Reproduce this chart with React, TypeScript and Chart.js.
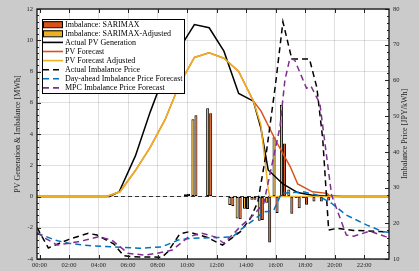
import React, { useEffect, useRef } from "react";
import { Chart, registerables } from "chart.js";

Chart.register(...registerables);

// ---------------- data ----------------
const hourTicks = [0, 2, 4, 6, 8, 10, 12, 14, 16, 18, 20, 22];
const hourLabels = ["00:00", "02:00", "04:00", "06:00", "08:00", "10:00", "12:00", "14:00", "16:00", "18:00", "20:00", "22:00"];
const leftTicks = [-4, -2, 0, 2, 4, 6, 8, 10, 12];
const rightTicks = [10, 20, 30, 40, 50, 60, 70, 80];
const xMin = -0.17;
const xMax = 23.69;

// imbalance bars (MWh), 30-min slots
const barTimes = [10.0, 10.5, 11.5, 13.0, 13.5, 14.0, 14.5, 15.0, 15.5, 16.0, 16.5, 17.0, 17.5, 18.0, 18.5, 19.0, 19.5];
const imbalanceSarimax = [0.17, 5.2, 5.33, -0.6, -1.45, -0.8, -0.2, -1.5, -2.94, -1.06, 3.4, -1.1, -0.75, -0.53, -0.32, -0.32, -0.26];
const imbalanceAdjusted = [0.15, 4.95, 5.65, -0.55, -1.4, -0.78, -0.2, -1.55, -0.4, 3.8, 5.87, 0.45, -0.1, -0.1, null, null, null];

// PV (MWh)
const actualPvTimes = [xMin, 4.75, 5.4, 6.5, 7.5, 8.5, 9.5, 10.5, 11.5, 12.5, 13.5, 14.5, 15.0, 15.5, 16.5, 17.5, 18.5, 19.5, 20.5, xMax];
const actualPv = [0, 0, 0.3, 2.6, 5.4, 7.9, 9.5, 11.0, 10.8, 9.3, 6.6, 6.1, 4.4, 1.7, 0.8, 0.25, 0.08, 0.03, 0, 0];

const pvForecastTimes = [xMin, 4.55, 5.45, 6.5, 7.5, 8.5, 9.5, 10.5, 11.5, 12.5, 13.5, 14.5, 15.0, 16.0, 17.0, 17.5, 18.5, 19.5, 19.7, xMax];
const pvForecast = [0, 0, 0.3, 1.66, 3.14, 4.9, 7.2, 8.9, 9.2, 8.85, 8.0, 6.1, 5.5, 3.6, 1.9, 0.8, 0.3, 0.2, 0, 0];

const pvAdjustedTimes = [xMin, 4.55, 5.45, 6.5, 7.5, 8.5, 9.5, 10.5, 11.5, 12.5, 13.5, 14.5, 15.0, 15.5, 15.6, xMax];
const pvAdjusted = [0, 0, 0.3, 1.66, 3.14, 4.9, 7.2, 8.9, 9.2, 8.85, 8.0, 6.1, 4.6, 0.5, 0, 0];

const zeroTimes = [xMin, xMax];
const zeroLine = [0, 0];

// prices (JPY/kWh)
const actualPriceTimes = [xMin, 0.6, 2.0, 3.3, 3.9, 5.05, 5.7, 6.4, 8.3, 8.7, 9.5, 10.1, 11.4, 12.4, 13.6, 14.3, 14.8, 15.4, 16.0, 16.5, 17.1, 18.3, 18.8, 19.2, 19.6, 20.2, 21.3, xMax];
const actualPrice = [18.8, 13.1, 15.5, 17.2, 16.7, 14.2, 10.9, 10.6, 10.5, 12.0, 17.0, 17.6, 16.0, 13.9, 17.6, 21.4, 26.0, 40.5, 59.0, 76.4, 66.0, 66.0, 58.0, 43.5, 18.1, 18.6, 18.0, 17.6];

const dayAheadTimes = [xMin, 1.05, 1.95, 3.5, 5.0, 6.8, 8.3, 9.4, 10.3, 11.9, 13.1, 13.6, 14.5, 15.2, 15.85, 16.4, 17.9, 18.8, 19.8, 20.8, 22.2, 23.3, xMax];
const dayAheadPrice = [17.3, 15.3, 14.4, 13.7, 13.4, 13.0, 13.4, 15.3, 15.8, 16.0, 16.2, 18.1, 20.9, 23.2, 23.4, 28.4, 28.8, 27.9, 25.6, 22.3, 19.5, 17.6, 17.5];

const mpcTimes = [xMin, 0.4, 1.2, 2.6, 4.0, 4.9, 6.0, 7.1, 8.0, 9.0, 10.1, 11.0, 11.9, 12.5, 13.6, 14.5, 15.2, 16.3, 16.63, 16.97, 17.3, 18.1, 18.4, 19.0, 19.8, 20.8, 21.3, 22.4, 23.5, xMax];
const mpcPrice = [17.4, 15.8, 13.9, 14.8, 16.2, 15.3, 11.6, 11.1, 11.6, 12.5, 16.2, 17.2, 16.2, 14.4, 19.0, 22.3, 25.6, 47.0, 60.0, 66.2, 65.7, 57.8, 58.4, 53.6, 27.9, 16.7, 16.4, 17.8, 16.2, 16.3];

// ---------------- styling ----------------
const RED = "#D95319";
const YELLOW = "#EDB120";
const BLUE = "#0072BD";
const PURPLE = "#7E2F8E";
const AXIS = "#262626";
const GRID = "rgba(38,38,38,0.15)";
const FONT = "'Liberation Serif', 'Times New Roman', serif";
const DASH = [6, 4];

const pts = (xs: number[], ys: (number | null)[]) => xs.map((x, i) => ({ x, y: ys[i] }));

const bgPlugin = {
  id: "bgPlugin",
  beforeDraw(chart: any) {
    const { ctx, chartArea: a, width, height } = chart;
    ctx.save();
    ctx.fillStyle = "#cbcbcb";
    ctx.fillRect(0, 0, width, height);
    ctx.fillStyle = "#ffffff";
    ctx.fillRect(a.left, a.top, a.right - a.left, a.bottom - a.top);
    ctx.restore();
  },
};

const overlayPlugin = {
  id: "overlayPlugin",
  afterDraw(chart: any) {
    const { ctx, chartArea: a, scales } = chart;
    const sx = scales.x;
    const yl = scales.y;
    const yr = scales.y2;
    const r = (v: number) => Math.round(v) + 0.5;
    ctx.save();
    ctx.strokeStyle = AXIS;
    ctx.lineWidth = 1;
    ctx.setLineDash([]);
    ctx.beginPath();
    for (let i = 0; i < leftTicks.length; i++) {
      const p = r(yl.getPixelForValue(leftTicks[i]));
      ctx.moveTo(a.left, p);
      ctx.lineTo(a.left + 4, p);
      if (i < leftTicks.length - 1) {
        for (let k = 1; k < 5; k++) {
          const v = leftTicks[i] + (k * (leftTicks[i + 1] - leftTicks[i])) / 5;
          const q = r(yl.getPixelForValue(v));
          ctx.moveTo(a.left, q);
          ctx.lineTo(a.left + 2, q);
        }
      }
    }
    for (let i = 0; i < rightTicks.length; i++) {
      const p = r(yr.getPixelForValue(rightTicks[i]));
      ctx.moveTo(a.right, p);
      ctx.lineTo(a.right - 4, p);
      if (i < rightTicks.length - 1) {
        for (let k = 1; k < 5; k++) {
          const v = rightTicks[i] + (k * (rightTicks[i + 1] - rightTicks[i])) / 5;
          const q = r(yr.getPixelForValue(v));
          ctx.moveTo(a.right, q);
          ctx.lineTo(a.right - 2, q);
        }
      }
    }
    for (const h of hourTicks) {
      const p = r(sx.getPixelForValue(h));
      ctx.moveTo(p, a.bottom);
      ctx.lineTo(p, a.bottom - 4);
      ctx.moveTo(p, a.top);
      ctx.lineTo(p, a.top + 4);
    }
    ctx.stroke();
    ctx.lineWidth = 1.3;
    ctx.strokeStyle = "#111";
    ctx.strokeRect(Math.round(a.left), Math.round(a.top), Math.round(a.right - a.left), Math.round(a.bottom - a.top));

    // axis titles
    ctx.fillStyle = AXIS;
    ctx.font = `8px ${FONT}`;
    ctx.textAlign = "center";
    ctx.textBaseline = "middle";
    const cy = (a.top + a.bottom) / 2;
    ctx.save();
    ctx.translate(18, cy);
    ctx.rotate(-Math.PI / 2);
    ctx.fillText("PV Generation & Imbalance [MWh]", 0, 0);
    ctx.restore();
    ctx.save();
    ctx.translate(405, cy);
    ctx.rotate(-Math.PI / 2);
    ctx.fillText("Imbalance Price [JPY/kWh]", 0, 0);
    ctx.restore();

    // legend
    const items = chart.data.datasets.filter((d: any) => d.label);
    const lx = 42;
    const ly = 19;
    ctx.fillStyle = "#ffffff";
    ctx.fillRect(lx, ly, 142, 74);
    ctx.lineWidth = 1;
    ctx.strokeStyle = "#000";
    ctx.strokeRect(lx + 0.5, ly + 0.5, 142, 74);
    ctx.font = `8px ${FONT}`;
    ctx.textAlign = "left";
    ctx.textBaseline = "middle";
    items.forEach((d: any, i: number) => {
      const y = 24.2 + i * 9.1;
      if (d.type === "bar") {
        ctx.fillStyle = d.backgroundColor;
        ctx.fillRect(43, y - 3, 20, 6);
        ctx.strokeStyle = "#000";
        ctx.lineWidth = 1;
        ctx.setLineDash([]);
        ctx.strokeRect(43.5, y - 2.5, 19, 6);
      } else {
        ctx.strokeStyle = d.borderColor;
        ctx.lineWidth = 1.6;
        ctx.setLineDash(d.borderDash || []);
        ctx.beginPath();
        ctx.moveTo(43, y);
        ctx.lineTo(63, y);
        ctx.stroke();
        ctx.setLineDash([]);
      }
      ctx.fillStyle = "#000";
      ctx.fillText(d.label, 65, y + 0.5);
    });
    ctx.restore();
  },
};

export default function App() {
  const canvasRef = useRef<HTMLCanvasElement | null>(null);

  useEffect(() => {
    const canvas = canvasRef.current;
    if (!canvas) return;
    const lineBase = { type: "line", pointRadius: 0, tension: 0, borderWidth: 1.5, fill: false };
    const barBase = {
      type: "bar",
      borderColor: "#000",
      borderWidth: 1,
      borderSkipped: false,
      categoryPercentage: 0.82,
      barPercentage: 1,
      yAxisID: "y",
    };
    const chart = new Chart(canvas, {
      type: "bar",
      data: {
        datasets: [
          { ...barBase, label: "Imbalance: SARIMAX", data: pts(barTimes, imbalanceSarimax), backgroundColor: RED, order: 11 },
          { ...barBase, label: "Imbalance: SARIMAX-Adjusted", data: pts(barTimes, imbalanceAdjusted), backgroundColor: YELLOW, order: 10 },
          { ...lineBase, label: "Actual PV Generation", data: pts(actualPvTimes, actualPv), borderColor: "#000", yAxisID: "y", order: 8 },
          { ...lineBase, label: "PV Forecast", data: pts(pvForecastTimes, pvForecast), borderColor: RED, yAxisID: "y", order: 7 },
          { ...lineBase, label: "PV Forecast Adjusted", data: pts(pvAdjustedTimes, pvAdjusted), borderColor: YELLOW, yAxisID: "y", order: 6 },
          { ...lineBase, label: "Actual Imbalance Price", data: pts(actualPriceTimes, actualPrice), borderColor: "#000", borderDash: DASH, yAxisID: "y2", order: 5 },
          { ...lineBase, label: "Day-ahead Imbalance Price Forecast", data: pts(dayAheadTimes, dayAheadPrice), borderColor: BLUE, borderDash: DASH, yAxisID: "y2", order: 4 },
          { ...lineBase, label: "MPC Imbalance Price Forecast", data: pts(mpcTimes, mpcPrice), borderColor: PURPLE, borderDash: DASH, yAxisID: "y2", order: 3 },
          { ...lineBase, label: "", data: pts(zeroTimes, zeroLine), borderColor: "#333", borderWidth: 1.1, borderDash: [4, 3], yAxisID: "y", order: 9 },
        ] as any,
      },
      options: {
        animation: false,
        responsive: false,
        maintainAspectRatio: false,
        devicePixelRatio: 1,
        layout: { padding: { top: 9, left: 0, right: 0, bottom: 0 } },
        plugins: { legend: { display: false }, tooltip: { enabled: false } },
        scales: {
          x: {
            type: "linear",
            min: xMin,
            max: xMax,
            offset: false,
            afterBuildTicks: (s: any) => {
              s.ticks = hourTicks.map((v) => ({ value: v }));
            },
            afterFit: (s: any) => {
              s.height = 12;
            },
            ticks: {
              callback: (v: any) => hourLabels[hourTicks.indexOf(Number(v))] ?? "",
              font: { family: FONT, size: 6.5 },
              color: AXIS,
              padding: 2,
              maxRotation: 0,
              autoSkip: false,
            },
            grid: { color: GRID, drawTicks: false, offset: false, lineWidth: 1 },
            border: { display: false },
          },
          y: {
            type: "linear",
            position: "left",
            min: -4,
            max: 12,
            afterBuildTicks: (s: any) => {
              s.ticks = leftTicks.map((v) => ({ value: v }));
            },
            afterFit: (s: any) => {
              s.width = 37;
            },
            ticks: { font: { family: FONT, size: 6.5 }, color: AXIS, padding: 4 },
            grid: { color: GRID, drawTicks: false, lineWidth: 1 },
            border: { display: false },
          },
          y2: {
            type: "linear",
            position: "right",
            min: 10,
            max: 80,
            afterBuildTicks: (s: any) => {
              s.ticks = rightTicks.map((v) => ({ value: v }));
            },
            afterFit: (s: any) => {
              s.width = 30;
            },
            ticks: { font: { family: FONT, size: 6.5 }, color: AXIS, padding: 4 },
            grid: { display: false, drawTicks: false },
            border: { display: false },
          },
        },
      } as any,
      plugins: [bgPlugin, overlayPlugin],
    });
    return () => chart.destroy();
  }, []);

  return (
    <div style={{ position: "absolute", left: 0, top: 0, width: 419, height: 271 }}>
      <canvas ref={canvasRef} width={419} height={271} style={{ display: "block" }} />
    </div>
  );
}
